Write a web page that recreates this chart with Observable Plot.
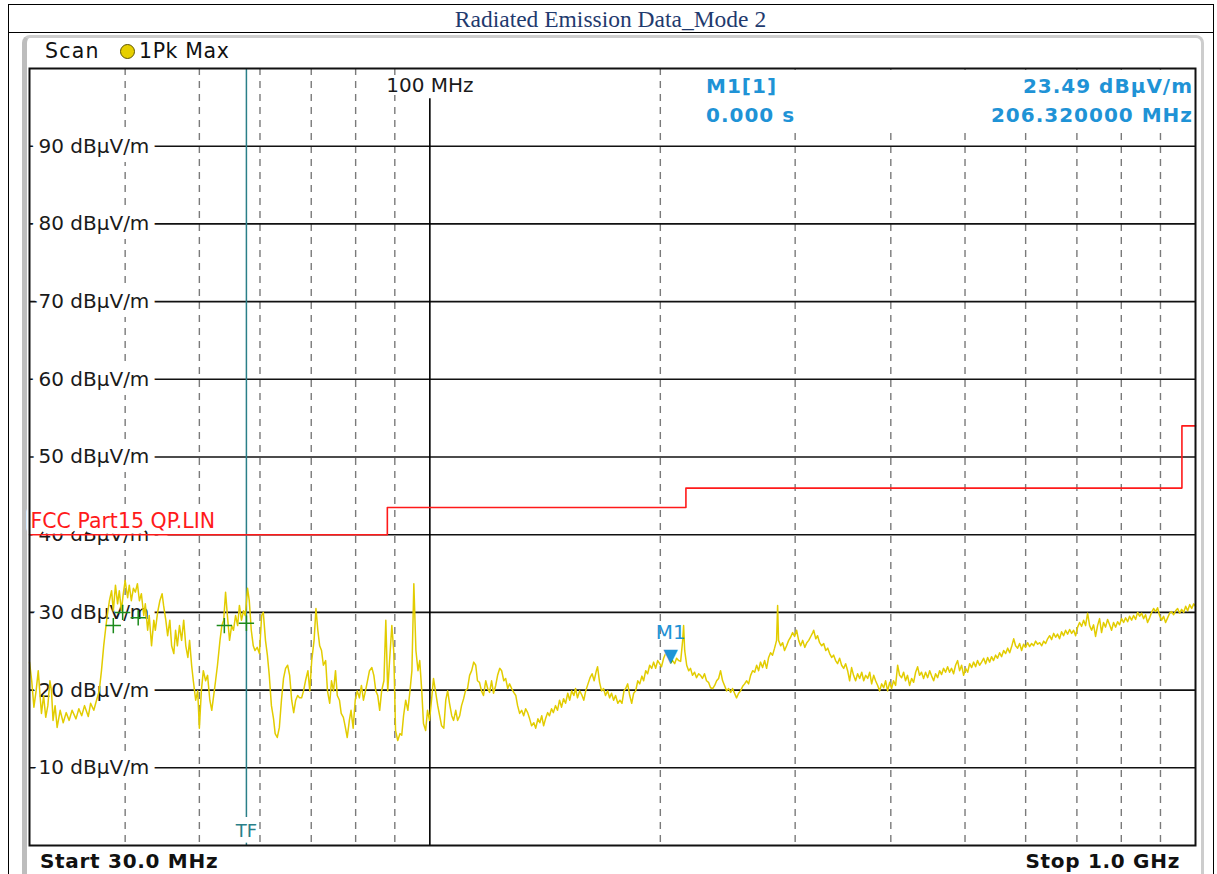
<!DOCTYPE html>
<html><head><meta charset="utf-8">
<script src="https://cdn.jsdelivr.net/npm/d3@7"></script>
<script src="https://cdn.jsdelivr.net/npm/@observablehq/plot@0.6"></script>
<style>
body{margin:0;background:#fff;}
#page{position:relative;width:1217px;height:874px;overflow:hidden;background:#fff;font-family:"DejaVu Sans",sans-serif;}
.abs{position:absolute;white-space:nowrap;}
#chart{position:absolute;left:0;top:0;z-index:2;}
#frameOuter{left:8px;top:4px;width:1204px;height:900px;border:1px solid #000;}
#rowLine{left:8px;top:32px;width:1205px;height:1px;background:#000;}
#title{left:8px;top:5px;width:1205px;height:28px;line-height:28px;text-align:center;font-family:"Liberation Serif","Times New Roman",serif;font-size:23.5px;color:#1f3a6e;}
#panel{left:22px;top:35px;width:1174px;height:845px;border:3px solid #cdcdcd;border-left:5px solid #bdbdbd;border-radius:8px;background:#fff;}
#hdr{left:45px;top:39px;font-size:20.5px;line-height:24px;color:#111;letter-spacing:1.2px;}
#hdrDot{left:120px;top:44px;width:13px;height:13px;border-radius:50%;background:#e6cf00;border:1.5px solid #5e5500;}
#hdr2{left:139px;top:39px;font-size:20.5px;line-height:24px;color:#111;letter-spacing:0.6px;}
#mk{left:692px;top:70px;width:501px;height:57px;background:#fff;z-index:3;}
.mk{font-size:20px;font-weight:bold;color:#1f93d6;letter-spacing:1px;line-height:24px;z-index:4;}
.ft{font-size:20px;font-weight:bold;color:#111;letter-spacing:0.7px;line-height:24px;z-index:4;}
g[aria-label="level labels"] text, g[aria-label="limit label"] text{letter-spacing:0.4px;}
g[aria-label="marker label"] text{letter-spacing:1px;}
</style>
</head>
<body>
<div id="page">
  <div id="frameOuter" class="abs"></div>
  <div id="rowLine" class="abs"></div>
  <div id="title" class="abs">Radiated Emission Data_Mode 2</div>
  <div id="panel" class="abs"></div>
  <div id="hdr" class="abs">Scan</div>
  <div id="hdrDot" class="abs"></div>
  <div id="hdr2" class="abs">1Pk Max</div>
  <div id="chart"></div>
  <div id="mk" class="abs"></div>
  <div class="abs mk" style="left:706px;top:74px;">M1[1]</div>
  <div class="abs mk" style="left:706px;top:103px;">0.000 s</div>
  <div class="abs mk" style="right:24px;top:74px;">23.49 dBµV/m</div>
  <div class="abs mk" style="right:24px;top:103px;">206.320000 MHz</div>
  <div class="abs ft" style="left:40px;top:849px;">Start 30.0 MHz</div>
  <div class="abs ft" style="right:37px;top:849px;">Stop 1.0 GHz</div>
</div>
<script>
// ---- data ----
const levelTicks = [10, 20, 30, 40, 50, 60, 70, 80, 90];           // dBµV/m gridlines
const minorFreqs = [40, 50, 60, 70, 80, 90, 200, 300, 400, 500, 600, 700, 800, 900]; // MHz dashed
const centerFreq = [100];                                            // MHz solid line
const tfFreq = [57.6];                                               // MHz transducer marker
const limitFreq = [30, 88, 216, 960, 1000];                          // FCC Part15 QP limit (MHz)
const limitLevel = [40, 43.5, 46, 54, 54];                           // dBµV/m
const peakFreq = [38.6, 39.7, 41.6, 53.9, 57.6];                     // green + peaks
const peakLevel = [28.3, 30.0, 29.3, 28.3, 28.6];
const markerFreq = [206.32];                                         // M1
const markerLevel = [23.49];

const traceFreq = [
30.0,30.2,30.4,30.6,30.8,31.0,31.1,31.3,31.5,31.7,31.9,32.05,32.2,32.4,32.6,32.9,33.2,33.5,33.8,34.1,
34.5,34.8,35.1,35.4,35.8,36.05,36.4,36.7,37.0,37.25,37.5,37.7,37.9,38.15,38.4,38.6,38.85,39.1,39.3,39.55,
39.75,40.0,40.3,40.5,40.75,41.0,41.25,41.5,41.75,42.0,42.3,42.5,42.8,43.0,43.3,43.6,43.8,44.1,44.4,44.7,
44.9,45.2,45.45,45.75,46.0,46.3,46.55,46.8,47.1,47.4,47.7,48.0,48.3,48.55,48.85,49.1,49.45,49.75,50.0,50.3,
50.6,50.95,51.25,51.6,51.9,52.2,52.5,52.8,53.2,53.5,53.8,54.1,54.4,54.75,55.1,55.4,55.75,56.1,56.4,56.75,
57.1,57.4,57.8,58.1,58.45,58.8,59.1,59.5,59.9,60.3,60.6,61.0,61.35,61.7,62.1,62.5,62.8,63.2,63.6,64.0,
64.4,64.8,65.2,65.6,66.0,66.4,66.8,67.2,67.6,68.0,68.4,68.8,69.3,69.7,70.1,70.6,71.0,71.4,71.8,72.2,
72.6,73.1,73.5,74.0,74.4,74.85,75.3,75.7,76.2,76.6,77.1,77.5,78.0,78.5,78.9,79.4,79.9,80.4,80.9,81.4,
81.9,82.4,82.9,83.4,84.0,84.5,85.0,85.5,86.0,86.5,87.1,87.6,88.1,88.6,89.2,89.7,90.2,90.8,91.4,91.9,
92.4,93.0,93.6,94.2,94.75,95.3,95.9,96.5,97.0,97.6,98.1,98.75,99.3,99.9,100.5,101.1,101.7,102.4,103.0,103.6,
104.3,104.9,105.5,106.1,106.8,107.4,108.1,108.7,109.4,110.0,110.7,111.3,112.0,112.7,113.4,114.1,114.8,115.4,116.1,116.8,
117.5,118.3,119.0,119.7,120.4,121.1,121.9,122.6,123.4,124.1,124.9,125.6,126.4,127.1,127.9,128.7,129.5,130.2,131.0,131.8,
132.6,133.4,134.2,135.0,135.8,136.7,137.5,138.4,139.2,140.0,140.8,141.6,142.5,143.3,144.2,145.0,145.9,146.8,147.7,148.6,
149.5,150.4,151.4,152.3,153.2,154.2,155.0,155.9,156.9,157.9,158.9,159.8,160.9,161.9,162.9,163.9,165.0,165.6,166.6,167.6,
168.6,169.6,170.7,171.7,172.7,173.8,174.8,176.0,177.1,178.2,179.3,180.2,181.3,182.4,183.5,184.6,185.7,186.9,188.0,189.2,
190.2,191.4,192.5,193.7,194.9,196.0,197.2,198.4,199.6,200.7,202.0,203.2,204.4,205.7,206.32,207.5,208.8,210.0,211.3,212.6,
213.9,214.5,215.2,216.5,217.8,219.0,220.3,221.7,223.0,224.4,225.7,227.0,228.4,229.8,231.2,232.6,234.1,235.5,236.9,238.3,
239.7,241.2,242.6,244.1,245.6,247.1,248.5,250.0,251.5,253.1,254.6,256.2,257.7,259.2,260.8,262.4,264.0,265.6,267.2,268.8,
270.3,272.0,273.7,275.3,277.0,278.6,280.3,282.0,283.7,284.6,285.4,287.2,288.9,290.6,292.4,294.2,295.9,297.7,299.5,301.3,
303.2,305.0,306.9,308.8,310.7,312.5,314.4,316.3,317.2,319.2,320.9,322.9,324.9,326.9,328.9,330.9,332.8,334.8,336.8,338.8,
340.8,342.9,345.0,347.1,349.2,351.3,353.4,355.5,357.6,359.8,362.0,364.2,366.5,368.7,370.9,373.1,375.4,377.6,379.9,382.1,
384.5,386.8,389.1,391.5,393.8,396.2,398.6,400.9,403.3,405.8,408.3,410.7,413.2,415.7,418.1,420.6,423.2,425.8,428.4,431.0,
433.6,436.1,438.7,441.4,444.1,446.9,449.6,452.3,455.0,457.7,460.4,463.2,466.0,468.8,471.6,474.5,477.3,480.1,483.1,486.0,
489.0,491.9,494.9,497.9,500.9,504.0,507.0,510.1,513.1,516.2,519.2,522.4,525.6,528.8,532.0,535.2,538.4,541.5,544.8,548.1,
551.4,554.8,558.1,561.6,565.0,568.4,571.9,575.3,578.8,582.1,585.7,589.2,592.8,596.3,599.8,603.5,607.2,610.9,614.6,618.3,
622.1,625.9,629.7,633.5,637.2,641.0,644.9,648.8,652.7,656.6,660.4,664.4,668.5,672.5,676.6,680.7,684.9,689.0,693.2,697.3,
701.5,705.7,710.0,714.3,718.5,722.9,727.3,731.7,736.0,740.4,744.9,749.4,753.9,758.4,763.0,767.7,772.3,776.9,781.6,786.4,
791.1,795.9,800.7,805.6,810.5,815.4,820.2,825.2,830.2,835.2,840.3,845.3,850.4,855.4,860.5,865.8,871.1,876.3,881.6,886.9,
892.2,897.6,903.1,908.5,914.0,919.5,925.1,930.8,936.4,942.0,947.7,953.4,959.2,965.0,970.9,976.8,982.7,988.6,994.6,1000
];
const traceLevel = [
23.6,21.2,17.8,19.9,22.5,18.7,17.0,19.3,16.5,18.0,21.2,19.9,16.1,18.0,15.2,17.4,15.8,17.1,16.1,17.4,
16.3,17.6,16.7,18.0,16.6,18.3,17.4,18.7,19.9,22.5,25.7,27.7,29.6,31.5,32.8,30.2,33.5,31.1,32.8,30.2,
32.2,34.1,31.9,33.5,31.5,33.1,32.6,33.7,31.5,32.4,29.6,31.1,27.7,29.6,25.7,29.0,27.7,30.0,31.5,32.4,
30.9,29.0,27.0,29.0,25.7,24.7,27.7,25.7,28.3,26.4,29.0,25.7,24.2,26.4,23.2,21.2,18.7,19.9,15.1,19.9,
22.5,21.2,21.9,18.7,17.4,19.3,21.2,23.2,26.4,28.3,29.0,32.6,29.6,26.4,28.3,27.7,29.6,28.3,30.9,29.0,
30.2,29.6,33.1,31.5,27.7,25.7,25.1,25.5,24.7,29.6,30.0,26.4,24.5,21.9,18.0,16.3,14.4,13.9,15.2,18.7,
21.5,22.8,23.2,21.9,18.7,17.1,18.7,19.3,19.0,19.0,19.9,21.2,22.5,19.9,23.8,26.4,30.5,27.7,25.7,25.1,
23.2,23.8,19.9,18.3,21.2,19.9,22.5,19.3,18.7,17.0,16.5,15.4,13.9,16.1,17.4,15.1,18.7,19.9,19.0,20.6,
18.7,19.9,21.2,22.5,22.9,21.9,19.9,19.3,17.4,19.9,21.2,29.0,19.9,23.8,28.3,25.1,14.8,13.5,14.4,14.2,
16.7,18.7,17.4,19.9,22.5,33.7,25.1,22.5,23.8,19.9,15.7,14.8,17.4,16.1,18.7,21.5,19.9,18.0,16.7,15.4,
15.1,18.7,19.9,18.3,16.7,16.1,17.4,16.1,16.7,18.0,18.9,19.9,20.2,21.9,22.5,23.6,23.2,21.2,21.0,19.9,
19.3,21.2,20.2,19.7,21.2,19.6,20.6,21.9,22.8,22.5,21.2,21.5,20.2,20.8,20.2,19.7,19.3,18.0,17.0,17.4,
16.7,17.6,17.1,16.3,15.4,15.8,15.1,16.3,15.8,16.7,15.4,16.3,17.1,16.7,17.6,17.1,18.0,17.4,18.7,17.8,
18.9,18.3,19.6,18.7,19.9,19.3,20.2,19.0,19.9,19.4,18.7,19.9,20.8,21.6,22.1,21.2,22.5,23.0,21.0,19.9,
20.2,19.3,19.9,19.0,19.6,18.7,19.3,18.3,18.7,18.3,19.9,20.2,20.8,19.3,18.3,19.6,19.9,21.2,20.8,21.8,
21.2,22.5,22.1,23.2,22.8,23.6,22.8,23.8,23.4,23.0,24.1,24.7,24.5,23.8,23.49,23.8,23.4,24.1,23.8,23.7,
26.4,28.3,25.1,23.2,22.5,22.8,21.9,22.3,21.6,22.1,21.9,21.5,22.1,21.2,21.0,20.3,20.2,20.6,21.2,21.5,
22.5,21.2,20.6,19.9,20.2,19.7,20.2,19.6,19.0,19.6,19.9,20.5,20.8,21.2,20.8,21.9,22.5,22.3,23.2,22.5,
23.6,22.9,23.8,22.8,24.2,24.8,24.5,25.4,26.4,30.9,26.4,25.7,26.1,25.1,25.7,26.4,26.8,27.4,26.9,27.7,
26.4,25.7,26.4,25.5,26.1,26.4,26.9,27.4,27.7,26.6,27.0,26.1,25.7,26.0,25.1,25.4,24.7,24.2,24.5,23.8,
23.4,24.1,23.2,22.8,23.4,22.5,21.2,22.9,21.9,21.2,22.1,21.5,22.3,21.2,21.9,21.5,22.3,20.8,21.9,21.2,
20.6,19.9,20.8,20.3,21.2,19.9,21.0,20.2,21.2,20.6,23.2,21.9,21.6,22.3,21.2,21.9,20.6,21.5,21.0,22.3,
23.0,21.9,22.3,21.5,22.3,21.6,22.5,21.8,21.2,22.1,21.6,22.5,22.0,22.8,22.3,23.0,22.3,22.8,22.1,23.2,
23.8,22.5,23.2,21.9,22.8,22.3,23.4,22.9,23.6,23.0,23.8,23.2,23.6,24.1,23.4,24.2,23.6,24.3,23.8,24.5,
24.1,24.8,24.3,25.1,24.7,25.4,24.8,25.6,26.6,25.7,25.4,26.0,25.1,25.9,25.5,26.1,25.6,26.0,25.7,26.3,
25.9,26.1,25.7,26.3,26.0,26.6,27.0,26.5,27.3,26.8,27.2,26.6,27.5,27.0,27.7,27.2,27.8,27.3,27.7,27.0,
28.1,28.7,28.2,29.0,28.3,29.9,28.3,27.7,28.4,26.9,28.3,29.2,27.4,28.7,28.1,29.1,28.4,27.7,28.7,28.1,
28.8,28.4,29.2,28.7,29.3,28.8,29.5,29.0,29.6,29.1,30.0,29.5,29.9,29.2,29.7,28.7,29.3,30.0,30.5,30.1,
30.6,29.6,29.0,29.5,28.7,29.3,29.9,30.1,29.7,30.2,30.5,29.9,30.4,30.0,30.8,30.2,31.0,30.5,31.1,30.8
];
// ---------------------------------------

const trace = traceFreq.map((f, i) => ({f, v: traceLevel[i]}));
const limit = limitFreq.map((f, i) => ({f, v: limitLevel[i]}));
const peaks = peakFreq.map((f, i) => ({f, v: peakLevel[i]}));
const marker = markerFreq.map((f, i) => ({f, v: markerLevel[i]}));

const chart = Plot.plot({
  width: 1217, height: 874,
  marginLeft: 29, marginRight: 22, marginTop: 68, marginBottom: 29,
  x: {type: "log", domain: [30, 1000], axis: null},
  y: {domain: [0, 100], axis: null},
  style: {background: "transparent", fontFamily: "'DejaVu Sans', sans-serif", overflow: "visible"},
  marks: [
    Plot.ruleX(minorFreqs, {x: d => d, stroke: "#7a7a7a", strokeWidth: 1.4, strokeDasharray: "7,6"}),
    Plot.ruleY(levelTicks, {y: d => d, stroke: "#111", strokeWidth: 1.6}),
    Plot.ruleX(centerFreq, {x: d => d, y1: 0, y2: 96.1, stroke: "#000", strokeWidth: 1.6}),
    Plot.text(levelTicks, {ariaLabel: "level labels", y: d => d, frameAnchor: "left", textAnchor: "start", dx: 9,
      text: d => `${d} dBµV/m`, fontSize: 20, fill: "#1a1a1a", stroke: "white", strokeWidth: 14,
      strokeLinejoin: "round", paintOrder: "stroke"}),
    Plot.text(centerFreq, {x: d => d, y: 97.8, text: d => `${d} MHz`, fontSize: 20, fill: "#1a1a1a",
      stroke: "white", strokeWidth: 6, paintOrder: "stroke"}),
    Plot.ruleX(tfFreq, {x: d => d, y1: 3.6, y2: 100, stroke: "#2a7f88", strokeWidth: 1.5}),
    Plot.ruleX(tfFreq, {x: d => d, y1: 0, y2: 0.3, stroke: "#2a7f88", strokeWidth: 1.5}),
    Plot.text(tfFreq, {x: d => d, y: 1.8, text: () => "TF", fontSize: 18, fill: "#2a7f88"}),
    Plot.text(limit.slice(0, 1), {ariaLabel: "limit label", x: "f", y: "v", dy: -13, dx: 1, textAnchor: "start",
      text: () => "FCC Part15 QP.LIN", fontSize: 20.5, fill: "#ff1a1a", stroke: "white", strokeWidth: 12, paintOrder: "stroke"}),
    Plot.line(limit, {x: "f", y: "v", curve: "step-after", stroke: "#ff1a1a", strokeWidth: 1.6}),
    Plot.line(trace, {x: "f", y: "v", stroke: "#e2cc00", strokeWidth: 1.5}),
    Plot.dot(peaks, {x: "f", y: "v", symbol: "plus", r: 5, stroke: "#1c8a1c", strokeWidth: 1.5}),
    Plot.text(marker, {x: "f", y: "v", dy: -7, text: () => "▼", fontSize: 19, fill: "#1f93d6"}),
    Plot.text(marker, {ariaLabel: "marker label", x: "f", y: "v", dy: -30, text: () => "M1", fontSize: 20, fill: "#1f93d6"}),
    Plot.frame({stroke: "#111", strokeWidth: 2})
  ]
});
document.getElementById("chart").appendChild(chart);
</script>
</body></html>
